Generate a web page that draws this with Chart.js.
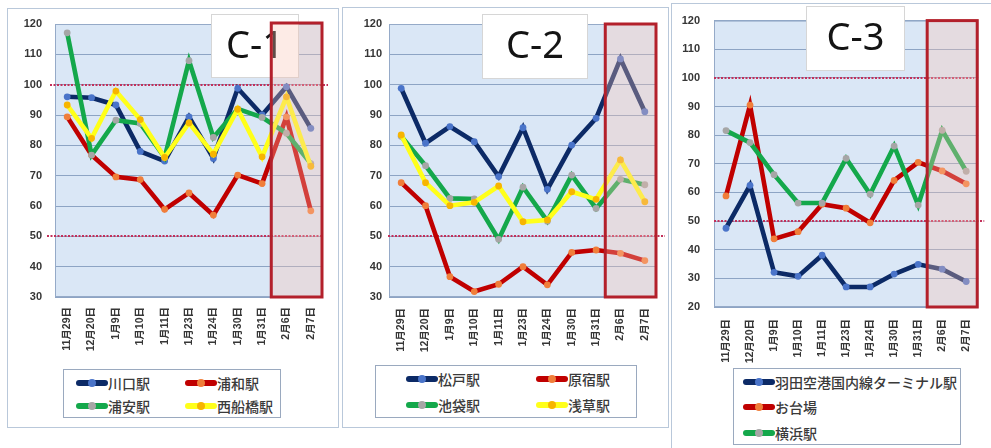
<!DOCTYPE html>
<html>
<head>
<meta charset="utf-8">
<script src="https://cdn.jsdelivr.net/npm/chart.js@4.4.1/dist/chart.umd.min.js"></script>
<style>
  html,body{margin:0;padding:0;background:#fff;}
  body{position:relative;width:991px;height:448px;overflow:hidden;font-family:"Noto Sans CJK JP","Noto Sans",sans-serif;}
  .panel{position:absolute;border:1px solid #b9c8da;background:#fff;box-sizing:border-box;}
  canvas{position:absolute;}
  .legend{position:absolute;border:1px solid #9aa9bf;box-sizing:border-box;display:grid;background:#fff;}
  .item{display:flex;align-items:center;font-size:14px;font-weight:500;color:#3a3a3a;white-space:nowrap;}
  .sample{position:relative;width:32px;height:14px;flex:none;}
  .sample .ln{position:absolute;left:0;right:0;top:4px;height:6px;border-radius:3px;}
  .sample .dt{position:absolute;left:12px;top:3px;width:8px;height:8px;border-radius:50%;}
</style>
</head>
<body>
<div class="panel" style="left:7px;top:8px;width:332px;height:420px"></div>
<div class="panel" style="left:342px;top:7px;width:327px;height:421px"></div>
<div class="panel" style="left:671px;top:3px;width:330px;height:460px"></div>

<canvas id="c1" width="340" height="370" style="left:0;top:0"></canvas>
<canvas id="c2" width="330" height="370" style="left:340px;top:0"></canvas>
<canvas id="c3" width="321" height="448" style="left:670px;top:0"></canvas>

<div id="lg1" class="legend" style="left:63px;top:369px;width:218px;height:49px;padding:1px 0 0 12px;grid-template-columns:109px 97px;grid-auto-rows:23px;"></div>
<div id="lg2" class="legend" style="left:375px;top:365px;width:262px;height:53px;padding:0 0 0 30px;grid-template-columns:130px 100px;grid-auto-rows:26px;"></div>
<div id="lg3" class="legend" style="left:733px;top:368px;width:228px;height:77px;padding:0 0 0 9px;grid-template-columns:215px;grid-auto-rows:25.5px;"></div>

<script>
// ---------- DATA ----------
const categories = ['11月29日','12月20日','1月9日','1月10日','1月11日','1月23日','1月24日','1月30日','1月31日','2月6日','2月7日'];
const highlightFrom = '2月6日';

// C-1
const c1Names = ['川口駅','浦和駅','浦安駅','西船橋駅'];
const kawaguchi      = [96, 95.7, 93.3, 78, 74.8, 89.4, 75.7, 98.8, 90, 99.3, 85.6];
const urawa          = [89.4, 76.8, 69.6, 68.7, 58.9, 64.3, 57, 70.2, 67.4, 89.4, 58.4];
const urayasu        = [117.1, 76.8, 88.3, 87.2, 76, 107.9, 82.6, 92, 89.2, 84, 74];
const nishifunabashi = [93.3, 82.3, 97.9, 88.5, 76, 87.4, 77.1, 91.9, 76.2, 96, 73.1];
const c1RefLines = [100, 50];

// C-2
const c2Names = ['松戸駅','原宿駅','池袋駅','浅草駅'];
const matsudo   = [98.8, 80.7, 86.2, 81.2, 69.7, 85.8, 65.5, 80.1, 88.9, 108.5, 91.1];
const harajuku  = [67.7, 60.1, 36.7, 31.8, 34.2, 40, 34, 44.7, 45.5, 44.4, 42];
const ikebukuro = [83, 73.3, 62.5, 62.3, 49, 66.2, 55, 70.2, 59.2, 68.8, 67];
const asakusa   = [83.4, 67.7, 60.1, 61.2, 66.6, 54.8, 55.4, 64.7, 62.2, 75.2, 61.4];
const c2RefLines = [50];

// C-3
const c3Names = ['羽田空港国内線ターミナル駅','お台場','横浜駅'];
const haneda   = [47.5, 62.5, 32.1, 30.7, 38.1, 27, 27, 31.5, 34.9, 33.2, 28.9];
const odaiba   = [58.8, 90.5, 43.8, 46.3, 55.9, 54.5, 49.4, 64.2, 70.5, 67.5, 63];
const yokohama = [81.6, 77.4, 66.2, 56.3, 56.3, 71.9, 59.4, 76.2, 55.6, 81.7, 67.4];
const c3RefLines = [100, 50];

const titles = ['C-1','C-2','C-3'];

// ---------- STYLE ----------
const NAVY  = {line:'#0c2a66', mark:'#4a74c9'};
const RED   = {line:'#c00000', mark:'#f07e3a'};
const GREEN = {line:'#14a84b', mark:'#a6a6a6'};
const YEL   = {line:'#ffff1a', mark:'#f7b500'};
const TICKFONT = "'Liberation Sans','Noto Sans CJK JP',sans-serif";

const deco = {
  id:'deco',
  beforeDraw(chart, args, o){
    const {ctx, chartArea:a} = chart;
    ctx.save();
    ctx.fillStyle = '#dae7f6';
    ctx.fillRect(a.left, a.top, a.right-a.left, a.bottom-a.top);
    ctx.restore();
  },
  beforeDatasetsDraw(chart, args, o){
    const {ctx, chartArea:a, scales:{y}} = chart;
    ctx.save();
    ctx.strokeStyle = '#95aac8'; ctx.lineWidth = 1;
    ctx.strokeRect(a.left+0.5, a.top+0.5, a.right-a.left-1, a.bottom-a.top-1);
    ctx.strokeStyle = '#c2305a'; ctx.lineWidth = 2.2; ctx.setLineDash([2,1.5]);
    o.refLines.forEach((v,i)=>{
      const py = Math.round(y.getPixelForValue(v));
      const ext = o.refExt[i];
      ctx.beginPath(); ctx.moveTo(a.left+ext[0], py); ctx.lineTo(a.right+ext[1], py); ctx.stroke();
    });
    ctx.restore();
  },
  afterDatasetsDraw(chart, args, o){
    const {ctx, chartArea:a, scales:{x}} = chart;
    ctx.save();
    // title box
    const t = o.titleBox;
    ctx.fillStyle = '#ffffff'; ctx.fillRect(t[0], t[1], t[2], t[3]);
    ctx.strokeStyle = '#d6d6d6'; ctx.lineWidth = 1; ctx.strokeRect(t[0]+0.5, t[1]+0.5, t[2]-1, t[3]-1);
    ctx.fillStyle = '#141414'; ctx.font = "38px 'Noto Sans','Liberation Sans',sans-serif";
    ctx.textAlign = 'center'; ctx.textBaseline = 'middle';
    ctx.fillText(o.title, t[0]+t[2]/2, t[1]+t[3]/2+1);
    // highlighted period
    const idx = categories.indexOf(highlightFrom);
    const step = x.getPixelForValue(1) - x.getPixelForValue(0);
    const hx = x.getPixelForValue(idx) - step/2 - o.hlShift;
    const hr = a.right - 1;
    ctx.fillStyle = 'rgba(250,195,180,0.33)';
    ctx.fillRect(hx, a.top, hr-hx, a.bottom-a.top);
    ctx.strokeStyle = '#b3202b'; ctx.lineWidth = 3;
    ctx.strokeRect(hx, a.top + o.hlTop, hr-hx, a.bottom-a.top-o.hlTop);
    ctx.restore();
  }
};

function ds(label, data, c, order){
  return {label, data, borderColor:c.line, backgroundColor:c.mark, borderWidth:4.6,
    pointRadius:3.4, pointBorderWidth:0, pointBackgroundColor:c.mark, tension:0, order};
}

function make(id, series, cfg){
  const n = series.length;
  return new Chart(document.getElementById(id), {
    type:'line',
    data:{labels:categories, datasets:series.map((s,i)=>ds(s[0], s[1], s[2], n-i))},
    options:{
      responsive:false, animation:false,
      layout:{padding:cfg.pad},
      plugins:{legend:{display:false}, tooltip:{enabled:false},
        deco:{refLines:cfg.refLines, refExt:cfg.refExt, title:cfg.title, titleBox:cfg.titleBox, hlShift:cfg.hlShift, hlTop:cfg.hlTop}},
      scales:{
        x:{offset:true, grid:{display:false, drawTicks:false}, border:{display:false},
           ticks:{autoSkip:false, maxRotation:90, minRotation:90, padding:cfg.xPad, color:'#363636',
                  font:{family:TICKFONT, size:10.5, weight:'bold'}},
           afterFit(s){ s.height = 60; }},
        y:{min:cfg.min, max:120, grid:{color:'#8da4c4', drawTicks:false, lineWidth:1}, border:{display:false},
           ticks:{stepSize:10, padding:cfg.yPad, color:'#363636', font:{family:TICKFONT, size:11, weight:'bold'}},
           afterFit(s){ s.width = cfg.yW; }}
      }
    },
    plugins:[deco]
  });
}

make('c1', [[c1Names[0],kawaguchi,NAVY],[c1Names[1],urawa,RED],[c1Names[2],urayasu,GREEN],[c1Names[3],nishifunabashi,YEL]],
  {pad:{left:10, top:24, right:17, bottom:13}, yW:45, yPad:13, xPad:10, min:30,
   refLines:c1RefLines, refExt:[[-5,5],[-8,-1]], title:titles[0], titleBox:[211,14,88,64], hlShift:3, hlTop:-1});

make('c2', [[c2Names[0],matsudo,NAVY],[c2Names[1],harajuku,RED],[c2Names[2],ikebukuro,GREEN],[c2Names[3],asakusa,YEL]],
  {pad:{left:9, top:24, right:13, bottom:13}, yW:40, yPad:7, xPad:11, min:30,
   refLines:c2RefLines, refExt:[[-1,8]], title:titles[1], titleBox:[142,14,106,65], hlShift:3, hlTop:0});

make('c3', [[c3Names[0],haneda,NAVY],[c3Names[1],odaiba,RED],[c3Names[2],yokohama,GREEN]],
  {pad:{left:6, top:15, right:4, bottom:81}, yW:38, yPad:14, xPad:12, min:20,
   refLines:c3RefLines, refExt:[[0,-4],[0,6]], title:titles[2], titleBox:[136,6,99,65], hlShift:3, hlTop:0});

// ---------- LEGENDS ----------
function legend(id, names, colors){
  const el = document.getElementById(id);
  names.forEach((nm,i)=>{
    const it = document.createElement('div'); it.className='item';
    it.innerHTML = '<span class="sample"><span class="ln" style="background:'+colors[i].line+'"></span><span class="dt" style="background:'+colors[i].mark+'"></span></span><span>'+nm+'</span>';
    el.appendChild(it);
  });
}
legend('lg1', c1Names, [NAVY,RED,GREEN,YEL]);
legend('lg2', c2Names, [NAVY,RED,GREEN,YEL]);
legend('lg3', c3Names, [NAVY,RED,GREEN]);
</script>
</body>
</html>
